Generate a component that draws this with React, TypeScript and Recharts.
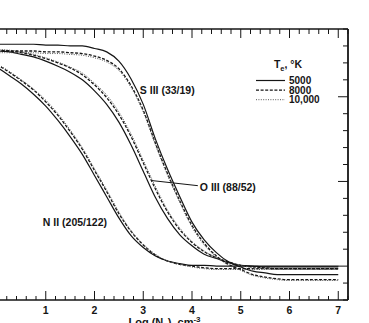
import React from 'react';
import { LineChart, Line, XAxis, YAxis, Legend, ReferenceDot, ReferenceLine } from 'recharts';

// log Ne grid
const logNe = [0, 0.25, 0.5, 0.75, 1, 1.25, 1.5, 1.75, 2, 2.25, 2.5, 2.75, 3, 3.25, 3.5, 3.75, 4, 4.25, 4.5, 4.75, 5, 5.25, 5.5, 5.75, 6, 6.25, 6.5, 6.75, 7];

// N II (205/122)
const nII5000 = [2.35, 2.25, 2.15, 2.03, 1.89, 1.72, 1.53, 1.32, 1.07, 0.82, 0.57, 0.36, 0.22, 0.12, 0.06, 0.03, 0.01, 0.01, 0, 0, 0, 0, 0, 0, 0, 0, 0, 0, 0];
const nII8000 = [2.38, 2.29, 2.19, 2.08, 1.94, 1.78, 1.59, 1.38, 1.13, 0.88, 0.62, 0.41, 0.25, 0.13, 0.06, 0.02, 0, -0.02, -0.03, -0.03, -0.03, -0.03, -0.03, -0.03, -0.03, -0.03, -0.03, -0.03, -0.03];
const nII10000 = [2.39, 2.3, 2.2, 2.09, 1.96, 1.8, 1.61, 1.4, 1.15, 0.9, 0.64, 0.42, 0.26, 0.14, 0.06, 0.02, -0.01, -0.03, -0.04, -0.04, -0.04, -0.04, -0.04, -0.04, -0.04, -0.04, -0.04, -0.04, -0.04];

// O III (88/52)
const oIII5000 = [2.54, 2.53, 2.5, 2.47, 2.42, 2.36, 2.29, 2.2, 2.07, 1.91, 1.7, 1.43, 1.12, 0.81, 0.56, 0.37, 0.24, 0.14, 0.09, 0.04, 0.01, 0, -0.01, -0.01, -0.01, -0.01, -0.01, -0.01, -0.01];
const oIII8000 = [2.55, 2.54, 2.52, 2.49, 2.45, 2.4, 2.34, 2.26, 2.14, 1.99, 1.79, 1.53, 1.22, 0.91, 0.64, 0.43, 0.28, 0.17, 0.1, 0.05, 0.01, -0.01, -0.02, -0.03, -0.03, -0.03, -0.03, -0.03, -0.03];
const oIII10000 = [2.56, 2.55, 2.53, 2.5, 2.46, 2.41, 2.35, 2.28, 2.16, 2.02, 1.82, 1.56, 1.25, 0.94, 0.66, 0.45, 0.29, 0.18, 0.1, 0.05, 0.01, -0.02, -0.03, -0.04, -0.04, -0.04, -0.04, -0.04, -0.04];

// S III (33/19)
const sIII5000 = [2.62, 2.62, 2.62, 2.62, 2.61, 2.61, 2.6, 2.6, 2.57, 2.53, 2.42, 2.21, 1.91, 1.5, 1.14, 0.82, 0.52, 0.31, 0.16, 0.05, -0.01, -0.06, -0.08, -0.1, -0.1, -0.1, -0.1, -0.1, -0.1];
const sIII8000 = [2.54, 2.54, 2.54, 2.54, 2.53, 2.53, 2.52, 2.51, 2.48, 2.43, 2.33, 2.13, 1.84, 1.45, 1.09, 0.77, 0.48, 0.27, 0.12, 0.02, -0.04, -0.1, -0.13, -0.15, -0.16, -0.16, -0.16, -0.16, -0.16];
const sIII10000 = [2.52, 2.52, 2.52, 2.52, 2.51, 2.51, 2.5, 2.49, 2.46, 2.41, 2.31, 2.11, 1.82, 1.43, 1.07, 0.75, 0.46, 0.25, 0.11, 0.01, -0.05, -0.11, -0.14, -0.16, -0.17, -0.17, -0.17, -0.17, -0.17];

const xTicks = [0, 0.2, 0.4, 0.6, 0.8, 1, 1.2, 1.4, 1.6, 1.8, 2, 2.2, 2.4, 2.6, 2.8, 3, 3.2, 3.4, 3.6, 3.8, 4, 4.2, 4.4, 4.6, 4.8, 5, 5.2, 5.4, 5.6, 5.8, 6, 6.2, 6.4, 6.6, 6.8, 7, 7.2];
const yTicks = [-0.4, -0.2, 0, 0.2, 0.4, 0.6, 0.8, 1, 1.2, 1.4, 1.6, 1.8, 2, 2.2, 2.4, 2.6, 2.8];
const xMax = 7.2;

const temps = ['5000', '8000', '10,000'];

const rows = logNe.map((x, i) => ({
  x,
  n5: nII5000[i], n8: nII8000[i], n10: nII10000[i],
  o5: oIII5000[i], o8: oIII8000[i], o10: oIII10000[i],
  s5: sIII5000[i], s8: sIII8000[i], s10: sIII10000[i],
}));

// chart box
const W = 372;
const H = 340;
const TOP = 29;
const AXIS_H = 40;
const AXIS_W = 21;
const PLOT_W = W - AXIS_W;

const INK = '#151515';
const FONT = '"Liberation Sans", Arial, sans-serif';
const styles: Record<string, { dash?: string; w: number; c: string }> = {
  '5000': { w: 1.2, c: INK },
  '8000': { dash: '3 1.6', w: 1.3, c: INK },
  '10,000': { dash: '1 1.4', w: 1, c: '#555' },
};

const isMajor = (v: number) => Math.abs(v - Math.round(v)) < 1e-6;

const BottomTick = (p: any) => {
  const v = p.payload.value;
  if (v === 0) return <g />;
  const major = isMajor(v);
  return (
    <g>
      <line x1={p.x} y1={p.y} x2={p.x} y2={p.y - (major ? 9 : 4)} stroke={INK} strokeWidth={1} />
      {major && (
        <text x={p.x} y={p.y + 14} textAnchor="middle" fontFamily={FONT} fontWeight="bold" fontSize={10.5} fill={INK}>
          {v}
        </text>
      )}
    </g>
  );
};

const RightTick = (p: any) => {
  const major = isMajor(p.payload.value);
  return <line x1={p.x} y1={p.y} x2={p.x - (major ? 10 : 5)} y2={p.y} stroke={INK} strokeWidth={1} />;
};

// top frame with inward ticks, laid over the chart
const TopFrame = () => (
  <svg width={W} height={TOP + 12} style={{ position: 'absolute', left: 0, top: 0, zIndex: 5, pointerEvents: 'none' }}>
    <line x1={0} x2={PLOT_W} y1={TOP} y2={TOP} stroke={INK} strokeWidth={1.5} />
    {xTicks.filter((t) => t > 0).map((t) => {
      const x = (t / xMax) * PLOT_W;
      return <line key={t} x1={x} x2={x} y1={TOP} y2={TOP + (isMajor(t) ? 9 : 5)} stroke={INK} strokeWidth={1} />;
    })}
  </svg>
);

const txt = (s: string) => (p: any) => (
  <text x={p.cx} y={p.cy} dominantBaseline="central" fontFamily={FONT} fontWeight="bold" fontSize={10.5} fill={INK}>
    {s}
  </text>
);

const LegendBox = () => (
  <svg width={75} height={52}>
    <text x={34} y={12} textAnchor="middle" fontFamily={FONT} fontWeight="bold" fontSize={10.5} fill={INK}>
      T<tspan fontSize={7.5} dy={2.5}>e</tspan>
      <tspan dy={-2.5}>, °K</tspan>
    </text>
    {temps.map((t, i) => {
      const y = 24.5 + i * 9.6;
      const s = styles[t];
      return (
        <g key={t}>
          <line x1={2} x2={31} y1={y} y2={y} stroke={s.c} strokeWidth={s.w} strokeDasharray={s.dash} />
          <text x={35} y={y + 3.6} fontFamily={FONT} fontWeight="bold" fontSize={10} fill={INK}>
            {t}
          </text>
        </g>
      );
    })}
  </svg>
);

const AxisTitle = (p: any) => {
  const vb = p.viewBox;
  return (
    <text x={vb.x + vb.width / 2 - 8} y={vb.y + 26} textAnchor="middle" fontFamily={FONT} fontWeight="bold" fontSize={11} fill={INK}>
      Log (N<tspan fontSize={8} dy={2}>e</tspan>
      <tspan dy={-2}>), cm</tspan>
      <tspan fontSize={8} dy={-4}>-3</tspan>
    </text>
  );
};

const series = [
  { key: 'n5', t: '5000' }, { key: 'n8', t: '8000' }, { key: 'n10', t: '10,000' },
  { key: 'o5', t: '5000' }, { key: 'o8', t: '8000' }, { key: 'o10', t: '10,000' },
  { key: 's5', t: '5000' }, { key: 's8', t: '8000' }, { key: 's10', t: '10,000' },
];

export default function App() {
  return (
    <div style={{ position: 'absolute', left: -3, top: 0, width: W, height: H, background: '#fff' }}>
      <LineChart width={W} height={H} data={rows} margin={{ top: TOP, right: 0, bottom: 0, left: 0 }}>
        <XAxis
          dataKey="x" type="number" domain={[0, xMax]} ticks={xTicks} interval={0}
          tick={BottomTick} tickLine={false} tickSize={0} tickMargin={0} height={AXIS_H}
          axisLine={{ stroke: INK, strokeWidth: 1.5 }} label={{ content: AxisTitle }}
        />
        <YAxis
          orientation="right" type="number" domain={[-0.4, 2.8]} ticks={yTicks} interval={0}
          tick={RightTick} tickLine={false} tickSize={0} tickMargin={0} width={AXIS_W}
          axisLine={{ stroke: INK, strokeWidth: 1.8 }}
        />
        <Legend layout="vertical" align="center" verticalAlign="middle" content={LegendBox}
          wrapperStyle={{ position: 'absolute', left: 257, top: 56, width: 75 }} />
        {series.map((s) => (
          <Line
            key={s.key} type="monotone" dataKey={s.key} dot={false}
            stroke={styles[s.t].c} strokeWidth={styles[s.t].w} strokeDasharray={styles[s.t].dash}
            isAnimationActive={false} legendType="none"
          />
        ))}
        <ReferenceLine segment={[{ x: 3.18, y: 1.01 }, { x: 4.12, y: 0.95 }]} stroke={INK} strokeWidth={1} />
        <ReferenceDot x={2.93} y={2.08} r={0} shape={txt('S III (33/19)')} />
        <ReferenceDot x={4.16} y={0.94} r={0} shape={txt('O III (88/52)')} />
        <ReferenceDot x={0.94} y={0.52} r={0} shape={txt('N II (205/122)')} />
      </LineChart>
      <TopFrame />
    </div>
  );
}
